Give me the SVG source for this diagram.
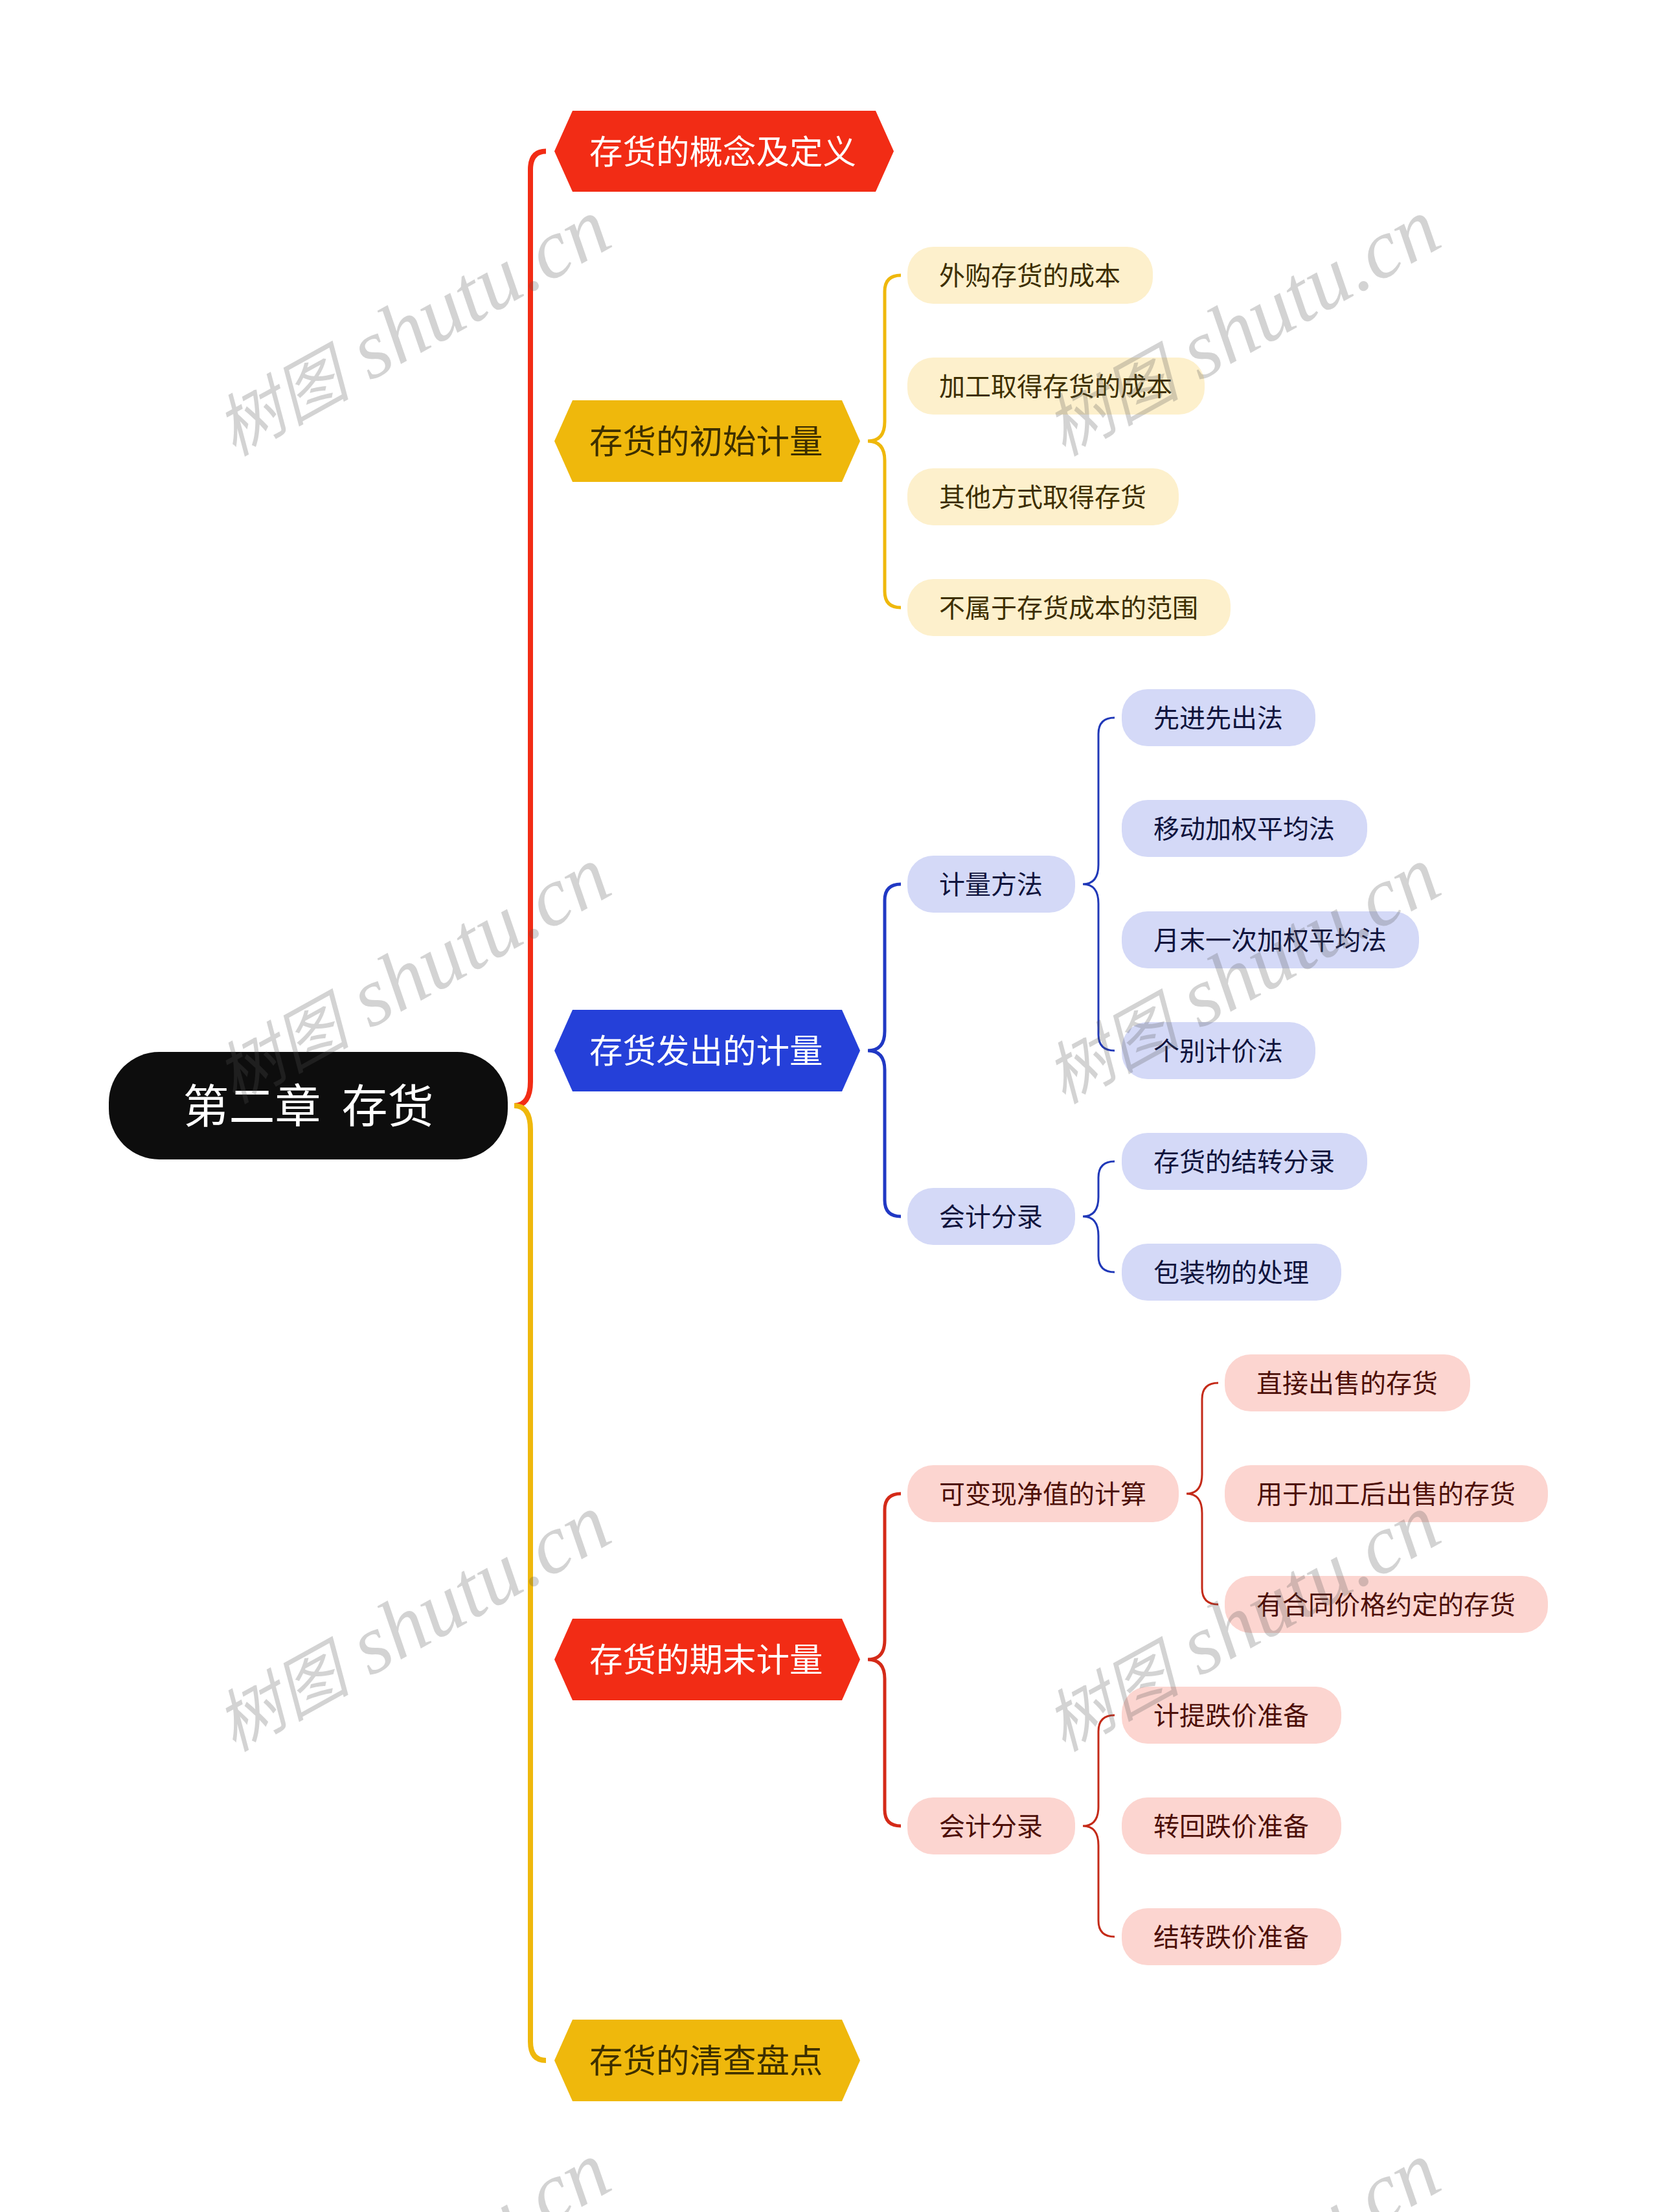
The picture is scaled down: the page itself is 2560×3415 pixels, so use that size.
<svg xmlns="http://www.w3.org/2000/svg" width="2560" height="3415" viewBox="0 0 2560 3415">
<style>
text{font-family:"Noto Sans CJK SC","Noto Sans",sans-serif}
.root-t{font-size:71px;fill:#fff;white-space:pre}
.h{font-size:51.500px}
.p{font-size:40px}
.w{fill:#fff}.y{fill:#3d2f00}
.lb{fill:#d4d9f7}.ly{fill:#fdf0cc}.lr{fill:#fcd5d0}
.tb{fill:#10143d}.ty{fill:#3d2f00}.tr{fill:#4d0f08}
.c{fill:none;stroke-linecap:butt}
.c1{stroke-width:8}.c2{stroke-width:5}.c3{stroke-width:3}
.wm{font-family:"Liberation Serif","Noto Sans CJK SC",serif;font-style:italic;font-size:129px;fill:#545454;opacity:.25}
.wm tspan{font-family:"Noto Sans CJK SC",serif;font-size:104px}
</style>
<rect width="2560" height="3415" fill="#fff"/>
<g id="connectors">
<path class="c c1" stroke="#f22c15" d="M794 1707C810 1707 819 1695 819 1670L819 262Q819 233.500 843 233.500"/>
<path class="c c1" stroke="#efb80c" d="M794 1707C810 1707 819 1719 819 1744L819 3152Q819 3181 843 3181"/>
<path class="c c2" stroke="#efb80c" d="M1340 681C1357 681 1366 671 1366 651L1366 450Q1366 425 1391 425M1340 681C1357 681 1366 691 1366 711L1366 913Q1366 938 1391 938"/>
<path class="c c2" stroke="#2038c4" d="M1340 1622C1357 1622 1366 1612 1366 1592L1366 1390Q1366 1365 1391 1365M1340 1622C1357 1622 1366 1632 1366 1652L1366 1853Q1366 1878 1391 1878"/>
<path class="c c2" stroke="#d42a18" d="M1340 2562C1357 2562 1366 2552 1366 2532L1366 2331Q1366 2306 1391 2306M1340 2562C1357 2562 1366 2572 1366 2592L1366 2794Q1366 2819 1391 2819"/>
<path class="c c3" stroke="#2038b8" d="M1672 1365C1688 1365 1696 1355 1696 1335L1696 1133Q1696 1108 1721 1108M1672 1365C1688 1365 1696 1375 1696 1395L1696 1597Q1696 1622 1721 1622"/>
<path class="c c3" stroke="#2038b8" d="M1672 1878C1688 1878 1696 1868 1696 1848L1696 1818Q1696 1793 1721 1793M1672 1878C1688 1878 1696 1888 1696 1908L1696 1939Q1696 1964 1721 1964"/>
<path class="c c3" stroke="#c42a18" d="M1832 2306C1848 2306 1856 2296 1856 2276L1856 2160Q1856 2135 1881 2135M1832 2306C1848 2306 1856 2316 1856 2336L1856 2452Q1856 2477 1881 2477"/>
<path class="c c3" stroke="#c42a18" d="M1672 2819C1688 2819 1696 2809 1696 2789L1696 2673Q1696 2648 1721 2648M1672 2819C1688 2819 1696 2829 1696 2849L1696 2965Q1696 2990 1721 2990"/>
</g>
<g id="root"><rect x="168" y="1624" width="616" height="166" rx="78" fill="#0d0d0d"/><text class="root-t" x="476" y="1733" text-anchor="middle">第二章  存货</text></g>
<g id="n1"><polygon points="856,233.500 884,171 1352,171 1380,233.500 1352,296 884,296" fill="#f22c15"/><text class="h w" x="910" y="253">存货的概念及定义</text></g>
<g id="n2"><polygon points="856,681 884,618 1300,618 1328,681 1300,744 884,744" fill="#efb80c"/><text class="h y" x="910" y="700">存货的初始计量</text></g>
<g id="n3"><polygon points="856,1622 884,1559 1300,1559 1328,1622 1300,1685 884,1685" fill="#2540d9"/><text class="h w" x="910" y="1641">存货发出的计量</text></g>
<g id="n4"><polygon points="856,2562 884,2499 1300,2499 1328,2562 1300,2625 884,2625" fill="#f22c15"/><text class="h w" x="910" y="2581">存货的期末计量</text></g>
<g id="n5"><polygon points="856,3181 884,3118 1300,3118 1328,3181 1300,3244 884,3244" fill="#efb80c"/><text class="h y" x="910" y="3200">存货的清查盘点</text></g>
<g id="y1"><rect class="ly" x="1401" y="381" width="379" height="88" rx="40"/><text class="p ty" x="1450" y="440">外购存货的成本</text></g>
<g id="y2"><rect class="ly" x="1401" y="552" width="459" height="88" rx="40"/><text class="p ty" x="1450" y="611">加工取得存货的成本</text></g>
<g id="y3"><rect class="ly" x="1401" y="723" width="419" height="88" rx="40"/><text class="p ty" x="1450" y="782">其他方式取得存货</text></g>
<g id="y4"><rect class="ly" x="1401" y="894" width="499" height="88" rx="40"/><text class="p ty" x="1450" y="953">不属于存货成本的范围</text></g>
<g id="b1"><rect class="lb" x="1401" y="1321" width="259" height="88" rx="40"/><text class="p tb" x="1450" y="1380">计量方法</text></g>
<g id="b2"><rect class="lb" x="1401" y="1834" width="259" height="88" rx="40"/><text class="p tb" x="1450" y="1893">会计分录</text></g>
<g id="b11"><rect class="lb" x="1732" y="1064" width="299" height="88" rx="40"/><text class="p tb" x="1781" y="1123">先进先出法</text></g>
<g id="b12"><rect class="lb" x="1732" y="1235" width="379" height="88" rx="40"/><text class="p tb" x="1781" y="1294">移动加权平均法</text></g>
<g id="b13"><rect class="lb" x="1732" y="1407" width="459" height="88" rx="40"/><text class="p tb" x="1781" y="1466">月末一次加权平均法</text></g>
<g id="b14"><rect class="lb" x="1732" y="1578" width="299" height="88" rx="40"/><text class="p tb" x="1781" y="1637">个别计价法</text></g>
<g id="b21"><rect class="lb" x="1732" y="1749" width="379" height="88" rx="40"/><text class="p tb" x="1781" y="1808">存货的结转分录</text></g>
<g id="b22"><rect class="lb" x="1732" y="1920" width="339" height="88" rx="40"/><text class="p tb" x="1781" y="1979">包装物的处理</text></g>
<g id="r1"><rect class="lr" x="1401" y="2262" width="419" height="88" rx="40"/><text class="p tr" x="1450" y="2321">可变现净值的计算</text></g>
<g id="r2"><rect class="lr" x="1401" y="2775" width="259" height="88" rx="40"/><text class="p tr" x="1450" y="2834">会计分录</text></g>
<g id="r11"><rect class="lr" x="1891" y="2091" width="379" height="88" rx="40"/><text class="p tr" x="1940" y="2150">直接出售的存货</text></g>
<g id="r12"><rect class="lr" x="1891" y="2262" width="499" height="88" rx="40"/><text class="p tr" x="1940" y="2321">用于加工后出售的存货</text></g>
<g id="r13"><rect class="lr" x="1891" y="2433" width="499" height="88" rx="40"/><text class="p tr" x="1940" y="2492">有合同价格约定的存货</text></g>
<g id="r21"><rect class="lr" x="1732" y="2604" width="339" height="88" rx="40"/><text class="p tr" x="1781" y="2663">计提跌价准备</text></g>
<g id="r22"><rect class="lr" x="1732" y="2775" width="339" height="88" rx="40"/><text class="p tr" x="1781" y="2834">转回跌价准备</text></g>
<g id="r23"><rect class="lr" x="1732" y="2946" width="339" height="88" rx="40"/><text class="p tr" x="1781" y="3005">结转跌价准备</text></g>
<g id="watermarks">
<text class="wm" transform="translate(361 705) rotate(-29)"><tspan>树图</tspan> shutu.cn</text>
<text class="wm" transform="translate(1642 705) rotate(-29)"><tspan>树图</tspan> shutu.cn</text>
<text class="wm" transform="translate(361 1705) rotate(-29)"><tspan>树图</tspan> shutu.cn</text>
<text class="wm" transform="translate(1642 1705) rotate(-29)"><tspan>树图</tspan> shutu.cn</text>
<text class="wm" transform="translate(361 2705) rotate(-29)"><tspan>树图</tspan> shutu.cn</text>
<text class="wm" transform="translate(1642 2705) rotate(-29)"><tspan>树图</tspan> shutu.cn</text>
<text class="wm" transform="translate(361 3705) rotate(-29)"><tspan>树图</tspan> shutu.cn</text>
<text class="wm" transform="translate(1642 3705) rotate(-29)"><tspan>树图</tspan> shutu.cn</text>
</g>
</svg>
